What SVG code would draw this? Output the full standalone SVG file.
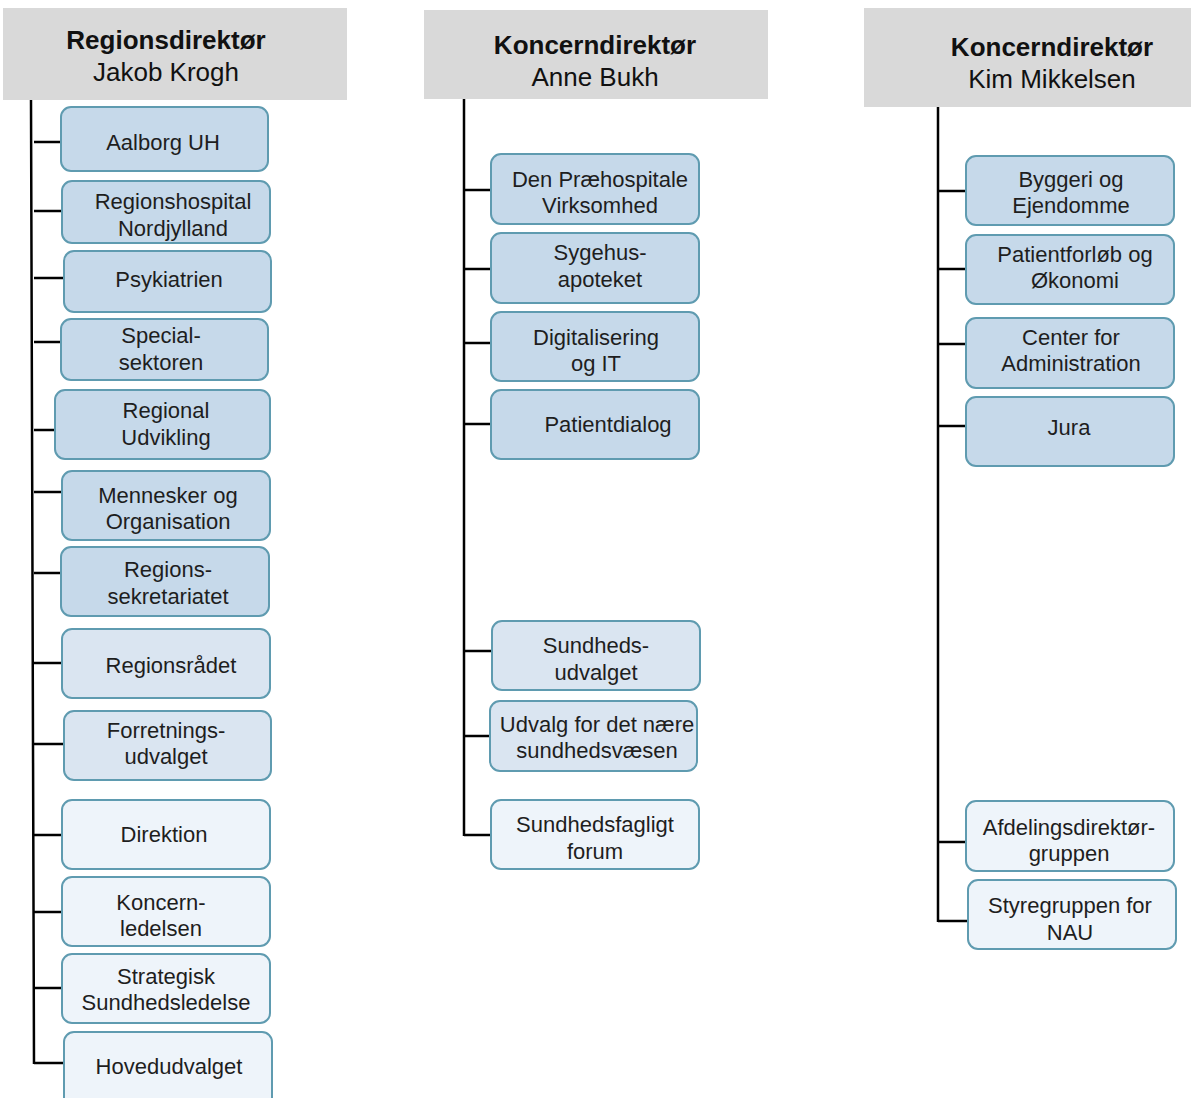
<svg xmlns="http://www.w3.org/2000/svg" width="1191" height="1098" viewBox="0 0 1191 1098">
<style>
.hdr{fill:#d9d9d9}
.ht{font-family:"Liberation Sans",Arial,sans-serif;font-size:26px;fill:#111;text-anchor:middle}
.b{font-weight:bold}
.bx{stroke:#5f9bb0;stroke-width:2}
.d{fill:#c6d9ea}
.m{fill:#dae5f1}
.l{fill:#eef4fa}
.t{font-family:"Liberation Sans",Arial,sans-serif;font-size:22px;fill:#1e1e1e;text-anchor:middle}
.c{stroke:#000;stroke-width:2.5;fill:none}
</style>
<rect width="1191" height="1098" fill="#fff"/>
<g id="connectors">
<path class="c" d="M31 100 L34 1064 M34 142 H61 M34 211 H62 M34 278 H64 M34 342 H61 M34 430 H55 M34 492 H62 M34 573 H61 M34 663 H62 M34 744 H64 M34 835 H62 M34 912 H62 M34 988 H62 M34 1063 H64"/>
<path class="c" d="M464 99 V836 M464 190 H491 M464 269 H491 M464 343 H491 M464 424 H491 M464 651 H492 M464 736 H490 M464 835 H491"/>
<path class="c" d="M938 107 V922 M938 191 H966 M938 269 H966 M938 344 H966 M938 426 H966 M938 842 H966 M938 921 H968"/>
</g>
<g id="h1"><rect class="hdr" x="3" y="8" width="344" height="92"/><text class="ht b" x="166" y="49">Regionsdirektør</text><text class="ht" x="166" y="81">Jakob Krogh</text></g>
<g id="h2"><rect class="hdr" x="424" y="10" width="344" height="89"/><text class="ht b" x="595" y="54">Koncerndirektør</text><text class="ht" x="595" y="86">Anne Bukh</text></g>
<g id="h3"><rect class="hdr" x="864" y="8" width="327" height="99"/><text class="ht b" x="1052" y="56">Koncerndirektør</text><text class="ht" x="1052" y="88">Kim Mikkelsen</text></g>

<g id="n1"><rect class="bx d" x="61" y="107" width="207" height="64" rx="10"/><text class="t" x="163" y="150">Aalborg UH</text></g>
<g id="n2"><rect class="bx d" x="62" y="181" width="208" height="62" rx="10"/><text class="t" x="173" y="209">Regionshospital</text><text class="t" x="173" y="236">Nordjylland</text></g>
<g id="n3"><rect class="bx d" x="64" y="251" width="207" height="61" rx="10"/><text class="t" x="169" y="287">Psykiatrien</text></g>
<g id="n4"><rect class="bx d" x="61" y="319" width="207" height="61" rx="10"/><text class="t" x="161" y="343">Special-</text><text class="t" x="161" y="370">sektoren</text></g>
<g id="n5"><rect class="bx d" x="55" y="390" width="215" height="69" rx="10"/><text class="t" x="166" y="418">Regional</text><text class="t" x="166" y="445">Udvikling</text></g>
<g id="n6"><rect class="bx d" x="62" y="471" width="208" height="69" rx="10"/><text class="t" x="168" y="503">Mennesker og</text><text class="t" x="168" y="529">Organisation</text></g>
<g id="n7"><rect class="bx d" x="61" y="547" width="208" height="69" rx="10"/><text class="t" x="168" y="577">Regions-</text><text class="t" x="168" y="604">sekretariatet</text></g>
<g id="n8"><rect class="bx m" x="62" y="629" width="208" height="69" rx="10"/><text class="t" x="171" y="673">Regionsrådet</text></g>
<g id="n9"><rect class="bx m" x="64" y="711" width="207" height="69" rx="10"/><text class="t" x="166" y="738">Forretnings-</text><text class="t" x="166" y="764">udvalget</text></g>
<g id="n10"><rect class="bx l" x="62" y="800" width="208" height="69" rx="10"/><text class="t" x="164" y="842">Direktion</text></g>
<g id="n11"><rect class="bx l" x="62" y="877" width="208" height="69" rx="10"/><text class="t" x="161" y="910">Koncern-</text><text class="t" x="161" y="936">ledelsen</text></g>
<g id="n12"><rect class="bx l" x="62" y="954" width="208" height="69" rx="10"/><text class="t" x="166" y="984">Strategisk</text><text class="t" x="166" y="1010">Sundhedsledelse</text></g>
<g id="n13"><rect class="bx l" x="64" y="1032" width="208" height="75" rx="10"/><text class="t" x="169" y="1074">Hovedudvalget</text></g>

<g id="m1"><rect class="bx d" x="491" y="154" width="208" height="70" rx="10"/><text class="t" x="600" y="187">Den Præhospitale</text><text class="t" x="600" y="213">Virksomhed</text></g>
<g id="m2"><rect class="bx d" x="491" y="233" width="208" height="70" rx="10"/><text class="t" x="600" y="260">Sygehus-</text><text class="t" x="600" y="287">apoteket</text></g>
<g id="m3"><rect class="bx d" x="491" y="312" width="208" height="69" rx="10"/><text class="t" x="596" y="345">Digitalisering</text><text class="t" x="596" y="371">og IT</text></g>
<g id="m4"><rect class="bx d" x="491" y="390" width="208" height="69" rx="10"/><text class="t" x="608" y="432">Patientdialog</text></g>
<g id="m5"><rect class="bx m" x="492" y="621" width="208" height="69" rx="10"/><text class="t" x="596" y="653">Sundheds-</text><text class="t" x="596" y="680">udvalget</text></g>
<g id="m6"><rect class="bx m" x="490" y="701" width="207" height="70" rx="10"/><text class="t" x="597" y="732">Udvalg for det nære</text><text class="t" x="597" y="758">sundhedsvæsen</text></g>
<g id="m7"><rect class="bx l" x="491" y="800" width="208" height="69" rx="10"/><text class="t" x="595" y="832">Sundhedsfagligt</text><text class="t" x="595" y="859">forum</text></g>

<g id="r1"><rect class="bx d" x="966" y="156" width="208" height="69" rx="10"/><text class="t" x="1071" y="187">Byggeri og</text><text class="t" x="1071" y="213">Ejendomme</text></g>
<g id="r2"><rect class="bx d" x="966" y="235" width="208" height="69" rx="10"/><text class="t" x="1075" y="262">Patientforløb og</text><text class="t" x="1075" y="288">Økonomi</text></g>
<g id="r3"><rect class="bx d" x="966" y="318" width="208" height="70" rx="10"/><text class="t" x="1071" y="345">Center for</text><text class="t" x="1071" y="371">Administration</text></g>
<g id="r4"><rect class="bx d" x="966" y="397" width="208" height="69" rx="10"/><text class="t" x="1069" y="435">Jura</text></g>
<g id="r5"><rect class="bx l" x="966" y="801" width="208" height="70" rx="10"/><text class="t" x="1069" y="835">Afdelingsdirektør-</text><text class="t" x="1069" y="861">gruppen</text></g>
<g id="r6"><rect class="bx l" x="968" y="880" width="208" height="69" rx="10"/><text class="t" x="1070" y="913">Styregruppen for</text><text class="t" x="1070" y="940">NAU</text></g>
</svg>
